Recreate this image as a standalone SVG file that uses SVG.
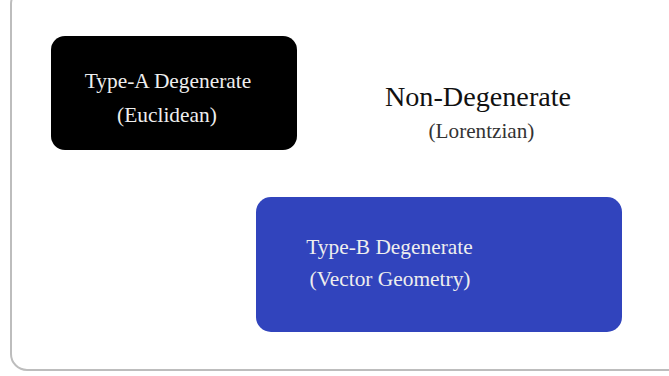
<svg xmlns="http://www.w3.org/2000/svg" width="669" height="376" viewBox="0 0 669 376">
<style>
.t{font-family:"Liberation Serif","Times New Roman",serif;text-anchor:middle}
.w{fill:#eeeeee;font-size:21.4px}
</style>
<rect width="669" height="376" fill="#ffffff"/>
<rect x="11" y="-12" width="690" height="382" rx="16" fill="#ffffff" stroke="#bdbdbd" stroke-width="2"/>
<g id="typeA">
<rect x="51" y="36" width="246" height="114" rx="14" fill="#000000"/>
<text class="t w" x="168" y="88">Type-A Degenerate</text>
<text class="t w" x="167" y="122">(Euclidean)</text>
</g>
<g id="nondegenerate">
<text class="t" x="478" y="106" font-size="28.2" fill="#111111">Non-Degenerate</text>
<text class="t" x="481.5" y="138" font-size="21.2" fill="#333333">(Lorentzian)</text>
</g>
<g id="typeB">
<rect x="256" y="197" width="366" height="135" rx="15" fill="#3144bd"/>
<text class="t w" x="389.5" y="254">Type-B Degenerate</text>
<text class="t w" x="390" y="286">(Vector Geometry)</text>
</g>
<g id="connectors"></g>
</svg>
